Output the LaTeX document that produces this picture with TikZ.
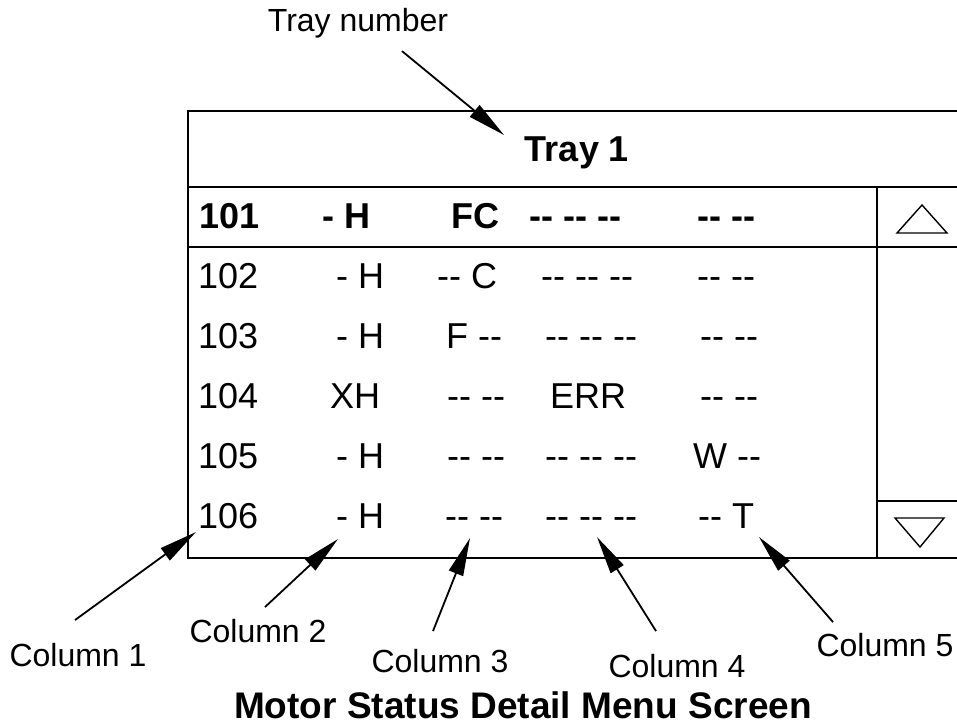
\documentclass[tikz,border=0pt]{standalone}
\usepackage{fontspec}
\setmainfont{Liberation Sans}[Ligatures=TeXOff]
\usetikzlibrary{arrows.meta}

\begin{document}
\begin{tikzpicture}[
    x=1pt, y=-1pt,
    >={Triangle[length=38pt, width=15pt]},
    frame/.style={line width=1.8pt},
    cell/.style={anchor=base west, inner sep=0pt, font=\fontsize{36}{40}\selectfont},
    hcell/.style={cell, font=\fontsize{36}{40}\selectfont\bfseries},
    lab/.style={inner sep=0pt, font=\fontsize{32}{36}\selectfont},
    ptr/.style={->, line width=1.8pt},
]
\useasboundingbox (0,0) rectangle (957,725);

% screen outline
\draw[frame] (957,111) -- (188,111) -- (188,558) -- (957,558);
\draw[frame] (188,187) -- (957,187);
\draw[frame] (188,247) -- (957,247);
\draw[frame] (877,187) -- (877,558);
\draw[frame] (877,501) -- (957,501);
\draw[line width=1.4pt] (897,233) -- (947,233) -- (922,205) -- cycle;
\draw[line width=1.4pt] (895,518) -- (944,518) -- (920,547) -- cycle;

\node[font=\fontsize{36}{40}\selectfont\bfseries] (tray) at (577,153) {Tray 1};

% header row
\node[hcell] (r1c1) at (199,228) {101};
\node[hcell] (r1c2) at (322,228) {- H};
\node[hcell] (r1c3) at (451,228) {FC};
\node[hcell] (r1c4) at (529,228) {-- -- --};
\node[hcell] (r1c5) at (697,228) {-- --};

\node[cell] (r2c1) at (198,288) {102};
\node[cell] (r2c2) at (336,288) {- H};
\node[cell] (r2c3) at (437,288) {-- C};
\node[cell] (r2c4) at (541,288) {-- -- --};
\node[cell] (r2c5) at (697,288) {-- --};

\node[cell] (r3c1) at (198,348) {103};
\node[cell] (r3c2) at (336,348) {- H};
\node[cell] (r3c3) at (446,348) {F --};
\node[cell] (r3c4) at (545,348) {-- -- --};
\node[cell] (r3c5) at (700,348) {-- --};

\node[cell] (r4c1) at (198,408) {104};
\node[cell] (r4c2) at (330,408) {XH};
\node[cell] (r4c3) at (447,408) {-- --};
\node[cell] (r4c4) at (550,408) {ERR};
\node[cell] (r4c5) at (700,408) {-- --};

\node[cell] (r5c1) at (198,468) {105};
\node[cell] (r5c2) at (336,468) {- H};
\node[cell] (r5c3) at (447,468) {-- --};
\node[cell] (r5c4) at (545,468) {-- -- --};
\node[cell] (r5c5) at (693,468) {W --};

\node[cell] (r6c1) at (198,528) {106};
\node[cell] (r6c2) at (336,528) {- H};
\node[cell] (r6c3) at (445,528) {-- --};
\node[cell] (r6c4) at (545,528) {-- -- --};
\node[cell] (r6c5) at (698,528) {-- T};

% callouts
\node[lab] (traylab) at (358,23) {Tray number};
\node[lab] (col1) at (78,655) {Column 1};
\node[lab] (col2) at (258,631) {Column 2};
\node[lab] (col3) at (440,661) {Column 3};
\node[lab] (col4) at (677,666) {Column 4};
\node[lab] (col5) at (885,645) {Column 5};

\coordinate (traytip) at (504,135);
\coordinate (c1tip) at (196,532);
\coordinate (c2tip) at (338,539);
\coordinate (c3tip) at (470,538);
\coordinate (c4tip) at (597,537);
\coordinate (c5tip) at (759,537);

\draw[ptr] ([shift={(44,13)}]traylab.south) -- (traytip);
\draw[ptr] ([shift={(-3,-23)}]col1.north) -- (c1tip);
\draw[ptr] ([shift={(7,-12)}]col2.north) -- (c2tip);
\draw[ptr] ([shift={(-7,-18)}]col3.north) -- (c3tip);
\draw[ptr] ([shift={(-21,-23)}]col4.north) -- (c4tip);
\draw[ptr] ([shift={(-52,-11)}]col5.north) -- (c5tip);

\node[font=\fontsize{37}{40}\selectfont\bfseries] (caption) at (523,705)
    {Motor Status Detail Menu Screen};

\end{tikzpicture}
\end{document}
